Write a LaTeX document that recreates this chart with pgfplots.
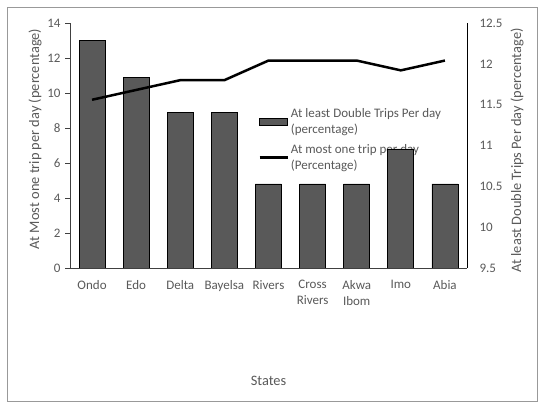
\documentclass[border=0pt]{standalone}
\usepackage{fontspec}
\setmainfont{Carlito}
\usepackage{pgfplots}
\pgfplotsset{compat=1.18}
\definecolor{txt}{HTML}{595959}
\definecolor{barfill}{HTML}{595959}
\definecolor{axl}{HTML}{404040}
\begin{document}
\begin{tikzpicture}[x=1pt,y=1pt]
\useasboundingbox (0,0) rectangle (538,403);
\draw[color=gray!80, line width=0.8pt] (7,2) rectangle (537,396);
\pgfplotsset{
  every axis/.append style={
    scale only axis, width=397pt, height=245pt,
    at={(70pt,135pt)}, anchor=south west,
    xmin=-0.5, xmax=8.5,
    tick label style={font=\fontsize{13}{15.5}\selectfont, color=txt},
    /pgf/number format/assume math mode=true,
  }
}
% legend drawn first, so that the bars lie over it
\begin{axis}[
  hide axis, ymin=0, ymax=14,
  legend style={at={(axis description cs:0.474,0.662)}, anchor=north west, draw=none, fill=none,
    font=\fontsize{13}{16.5}\selectfont, text=txt, row sep=5pt, inner sep=0pt},
  legend cell align=left,
  legend style={cells={align=left}},
]
\addlegendimage{area legend, legend image code/.code={\draw[fill=barfill,draw=black,line width=0.6pt] (0pt,-3.5pt) rectangle (28pt,3.5pt);}}
\addlegendentry{At least Double Trips Per day\\(percentage)}
\addlegendimage{legend image code/.code={\draw[black,line width=2.5pt] (0pt,0pt) -- (28pt,0pt);}}
\addlegendentry{At most one trip per day\\(Percentage)}
\end{axis}
\begin{axis}[
  axis y line*=left, axis x line*=bottom,
  axis line style={axl, line width=0.8pt, -},
  ymin=0, ymax=14, ytick={0,2,...,14},
  ytick style={axl, line width=0.8pt},
  tick align=outside, major tick length=5pt,
  xtick={0,...,8}, xtick style={draw=none},
  xticklabels={Ondo,Edo,Delta,Bayelsa,Rivers,{Cross\\Rivers},{Akwa\\Ibom},Imo,Abia},
  xticklabel style={align=center, anchor=north, yshift=-4pt},
  yticklabel style={xshift=-1pt},
  xlabel={States},
  every axis x label/.style={at={(axis description cs:0.5,-0.461)}, anchor=center,
    font=\fontsize{14.4}{16}\selectfont, text=txt},
  ylabel={At Most one trip per day (percentage)},
  every axis y label/.style={at={(axis description cs:-0.088,0.527)}, rotate=90, anchor=center,
    font=\fontsize{14.4}{16}\selectfont, text=txt},
]
\addplot[ybar, bar width=26pt, fill=barfill, draw=black, line width=0.7pt]
  coordinates {(0,13) (1,10.9) (2,8.9) (3,8.9) (4,4.8) (5,4.8) (6,4.8) (7,6.8) (8,4.8)};
\end{axis}
\begin{axis}[
  axis y line*=right, axis x line=none,
  axis line style={black, line width=0.8pt, -},
  ymin=9.5, ymax=12.5, ytick={9.5,10,...,12.5},
  major tick length=0pt,
  yticklabel style={xshift=9pt},
  yticklabel style={/pgf/number format/fixed},
  ylabel={At least Double Trips Per day (percentage)},
  every axis y label/.style={at={(axis description cs:1.126,0.48)}, rotate=90, anchor=center,
    font=\fontsize{14.4}{16}\selectfont, text=txt},
]
\addplot[black, line width=2.5pt, mark=none]
  coordinates {(0,11.56) (1,11.68) (2,11.80) (3,11.80) (4,12.04) (5,12.04) (6,12.04) (7,11.92) (8,12.04)};
\end{axis}
\end{tikzpicture}
\end{document}
